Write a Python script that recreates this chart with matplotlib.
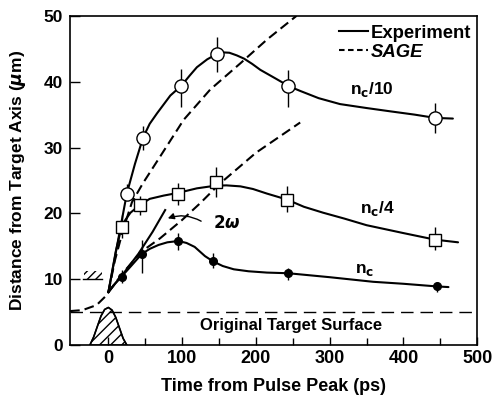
import matplotlib
matplotlib.use("Agg")
import matplotlib.pyplot as plt
from matplotlib.lines import Line2D
from matplotlib.patches import Rectangle

plt.rcParams['font.family'] = ['Liberation Sans', 'DejaVu Sans']
plt.rcParams['font.weight'] = 'bold'
plt.rcParams['mathtext.fontset'] = 'dejavusans'
plt.rcParams['lines.scale_dashes'] = False

# ---- data ----
# measured points: nc/10 (open circles)
t_nc10 = [25, 47, 99, 147, 244, 443]
y_nc10 = [23.0, 31.5, 39.3, 44.2, 39.3, 34.5]
lo_nc10 = [22.0, 29.6, 36.2, 41.4, 36.2, 32.2]
hi_nc10 = [24.5, 33.2, 42.0, 46.8, 41.8, 36.8]

# nc/4 (open squares)
t_nc4 = [18, 43, 94, 146, 242, 443]
y_nc4 = [18.0, 21.3, 23.0, 24.8, 22.1, 16.0]
lo_nc4 = [16.2, 19.8, 21.2, 22.5, 20.2, 14.4]
hi_nc4 = [19.8, 22.6, 24.6, 27.0, 24.2, 17.9]

# nc (filled circles)
t_nc = [18, 45, 95, 142, 244, 445]
y_nc = [10.4, 13.8, 15.8, 12.7, 10.9, 8.9]
lo_nc = [9.4, 11.0, 14.4, 11.7, 9.8, 8.1]
hi_nc = [11.4, 16.0, 17.0, 13.9, 11.7, 9.6]

# hand-drawn experiment curves
ct_nc10 = [0, 12, 25, 36, 47, 56, 66, 84, 99, 110, 120, 134, 147, 156, 164, 174, 184, 195, 206,
           217, 228, 245, 260, 285, 314, 350, 382, 415, 443, 467]
cy_nc10 = [8, 15.2, 23.0, 27.5, 31.5, 33.6, 35.2, 37.9, 39.4, 40.9, 42.2, 43.4, 44.2, 44.45, 44.4,
           44.0, 43.5, 42.7, 41.8, 41.1, 40.4, 39.3, 38.6, 37.5, 36.6, 36.0, 35.5, 35.0, 34.5, 34.4]
ct_nc4 = [0, 10, 18, 23, 30, 43, 56, 75, 94, 120, 145, 160, 179, 196, 215, 242, 265, 291, 320,
          350, 400, 443, 474]
cy_nc4 = [8, 14.2, 18.0, 19.0, 20.1, 21.3, 22.2, 22.7, 23.1, 23.8, 24.2, 24.25, 24.1, 23.7, 23.0,
          22.1, 21.0, 20.1, 19.2, 18.2, 17.0, 16.0, 15.6]
ct_nc = [0, 9, 18, 30, 45, 56, 68, 80, 95, 106, 117, 131, 142, 155, 170, 190, 215, 244, 300, 359,
         400, 445, 461]
cy_nc = [8, 9.3, 10.4, 11.9, 13.8, 14.6, 15.2, 15.6, 15.8, 15.5, 14.9, 13.5, 12.7, 12.0, 11.5,
         11.2, 11.0, 10.9, 10.3, 9.6, 9.3, 8.9, 8.8]

# 2-omega line
t_2w = [0, 20, 41, 60, 77]
y_2w = [8.1, 10.8, 13.9, 17.2, 20.5]

# SAGE simulations (dashed)
t_sage0 = [-52, -35, -16, -2, 0]
y_sage0 = [5.15, 5.3, 6.06, 7.6, 8]
t_sage_hi = [0, 9, 20, 32, 47, 70, 102, 138, 179, 215, 255]
y_sage_hi = [8, 12.9, 17.5, 21.7, 24.6, 28.6, 34.2, 38.8, 42.8, 46.4, 50]
t_sage_lo = [0, 20, 45, 70, 100, 125, 150, 200, 260]
y_sage_lo = [8, 11, 14.2, 16.2, 19.0, 21.6, 24.4, 29.2, 33.8]

# laser pulse shape
t_pulse = [-25, -20, -15, -10, -5, 0, 5, 10, 15, 20, 25]
y_pulse = [0, 1.2, 2.8, 4.4, 5.4, 5.7, 5.3, 4.2, 2.6, 1.0, 0]

surface_y = 5

xticks = [0, 100, 200, 300, 400, 500]
xminor = [50, 150, 250, 350, 450]
yticks = [0, 10, 20, 30, 40, 50]

# ---- figure ----
fig = plt.figure(figsize=(4.93, 3.97), dpi=100)
ax = fig.add_axes([0.142, 0.131, 0.826, 0.829])
ax.set_xlim(-52, 500)
ax.set_ylim(0, 50)

lw = 1.5
dash = (7, 3.6)

# pulse
ax.fill_between(t_pulse, 0, y_pulse, facecolor='white', edgecolor='black', hatch='///', linewidth=1.0)
ax.plot(t_pulse, y_pulse, color='black', lw=1.2)

# original target surface
ax.axhline(surface_y, color='black', lw=1.0, dashes=(9, 5))
ax.text(247, 3.0, 'Original Target Surface', ha='center', va='center', fontsize=12, fontweight='bold')

# SAGE
for t, y in [(t_sage0, y_sage0), (t_sage_hi, y_sage_hi), (t_sage_lo, y_sage_lo)]:
    ax.plot(t, y, color='black', lw=lw, dashes=dash)

# experiment curves
for t, y in [(ct_nc10, cy_nc10), (ct_nc4, cy_nc4), (ct_nc, cy_nc)]:
    ax.plot(t, y, color='black', lw=lw, solid_joinstyle='round', solid_capstyle='round')
ax.plot(t_2w, y_2w, color='black', lw=lw, solid_joinstyle='round')

# error bars
for t, lo, hi in [(t_nc10, lo_nc10, hi_nc10), (t_nc4, lo_nc4, hi_nc4), (t_nc, lo_nc, hi_nc)]:
    ax.vlines(t, lo, hi, color='black', lw=1.0)

# markers
ax.plot(t_nc10, y_nc10, 'o', ms=9.5, mfc='white', mec='black', mew=1.0, ls='none')
ax.plot(t_nc4, y_nc4, 's', ms=8.5, mfc='white', mec='black', mew=1.0, ls='none')
ax.plot(t_nc, y_nc, 'o', ms=5.5, mfc='black', mec='black', ls='none')

# surface hatch mark near y=10
ax.add_patch(Rectangle((-33, 10), 25, 1.2, facecolor='none', edgecolor='black', hatch='////', lw=0))
ax.plot([-34, -8], [10, 10], color='black', lw=1.0)

# labels
ax.text(327, 38.8, r'n$_\mathbf{c}$/10', fontsize=12.5, fontweight='bold', va='center')
ax.text(341, 20.8, r'n$_\mathbf{c}$/4', fontsize=12.5, fontweight='bold', va='center')
ax.text(334, 11.4, r'n$_\mathbf{c}$', fontsize=12.5, fontweight='bold', va='center')
ax.text(142, 18.6, r'$\mathbf{2}\omega$', fontsize=12, va='center')
ax.annotate('', xy=(77, 19.1), xytext=(129, 18.6),
            arrowprops=dict(arrowstyle='-|>', color='black', lw=1.0,
                            connectionstyle='arc3,rad=0.25', mutation_scale=9))

# legend
handles = [Line2D([], [], color='black', lw=lw), Line2D([], [], color='black', lw=lw, dashes=(4, 2.5))]
leg = ax.legend(handles, ['Experiment', 'SAGE'], loc='upper right', frameon=False,
                fontsize=13.3, handlelength=1.6, handletextpad=0.15, labelspacing=0.12,
                bbox_to_anchor=(0.995, 0.985), borderaxespad=0.0, borderpad=0.2)
leg.get_texts()[1].set_fontstyle('italic')

ax.set_xticks(xticks)
ax.set_xticks(xminor, minor=True)
ax.set_yticks(yticks)
ax.tick_params(axis='x', which='major', direction='in', length=6, width=1.0, labelsize=13, pad=3.5)
ax.tick_params(axis='x', which='minor', direction='in', length=5, width=1.0)
ax.tick_params(axis='y', which='major', direction='in', length=7, width=1.0, labelsize=12.5, pad=5)
for lab in ax.get_xticklabels() + ax.get_yticklabels():
    lab.set_fontweight('bold')
for s in ax.spines.values():
    s.set_linewidth(1.2)

ax.set_xlabel('Time from Pulse Peak (ps)', fontsize=13, fontweight='bold')
ax.xaxis.set_label_coords(0.5, -0.1)
ax.set_ylabel(r'Distance from Target Axis ($\mu$m)', fontsize=12.5, fontweight='bold')
ax.yaxis.set_label_coords(-0.103, 0.5)

fig.savefig('out.png', dpi=100)
